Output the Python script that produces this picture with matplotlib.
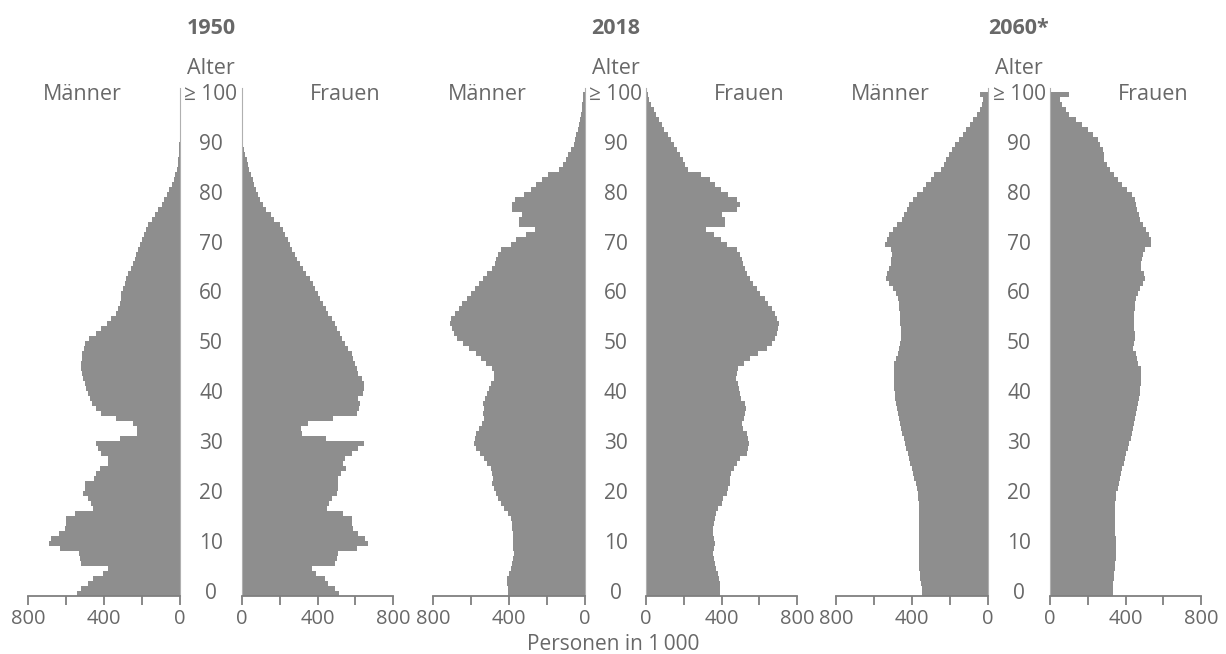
import numpy as np
import matplotlib
matplotlib.use("Agg")
import matplotlib.pyplot as plt
from matplotlib.transforms import blended_transform_factory

plt.rcParams['font.family'] = ['Open Sans', 'DejaVu Sans']

# Bevoelkerung nach Alter (0 .. >=100), in 1000 Personen
ages = np.arange(101)

men_1950 = [543, 520, 485, 458, 405, 379, 520, 525, 532, 634,
            691, 678, 638, 603, 599, 599, 555, 458, 467, 485,
            511, 502, 502, 455, 440, 423, 379, 379, 414, 432,
            440, 317, 226, 226, 247, 335, 418, 440, 462, 472,
            485, 493, 502, 511, 518, 521, 521, 518, 514, 507,
            500, 479, 444, 414, 384, 361, 335, 326, 317, 312,
            308, 300, 291, 282, 273, 260, 247, 238, 229, 220,
            211, 200, 190, 178, 167, 150, 132, 115, 97, 83,
            70, 57, 44, 33, 25, 18, 13, 9, 6, 4,
            3, 2, 1.5, 1, 0.7, 0.5, 0.3, 0.2, 0.1, 0.1, 0.1]
women_1950 = [516, 492, 457, 439, 391, 373, 492, 501, 510, 608,
              670, 653, 617, 590, 581, 581, 537, 448, 462, 475,
              501, 510, 510, 510, 523, 551, 537, 546, 581, 617,
              644, 444, 320, 315, 350, 484, 608, 622, 626, 617,
              640, 644, 644, 635, 617, 608, 599, 590, 581, 564,
              546, 532, 519, 505, 492, 475, 457, 444, 430, 415,
              400, 388, 377, 359, 341, 323, 306, 292, 279, 267,
              256, 244, 229, 217, 199, 172, 155, 128, 110, 96,
              84, 75, 66, 57, 48, 39, 30, 24, 18, 12,
              7, 5, 3, 2, 1.5, 1, 0.7, 0.5, 0.3, 0.2, 0.1]

men_2018 = [403, 403, 409, 409, 400, 391, 386, 379, 374, 379,
            379, 379, 379, 382, 386, 391, 403, 426, 444, 456,
            470, 479, 488, 484, 488, 496, 514, 531, 554, 575,
            584, 579, 572, 558, 540, 531, 537, 531, 537, 526,
            514, 505, 496, 479, 479, 488, 523, 549, 575, 610,
            640, 672, 689, 702, 712, 707, 684, 663, 645, 619,
            602, 579, 558, 537, 514, 488, 474, 467, 456, 444,
            391, 365, 312, 263, 347, 347, 330, 382, 386, 368,
            321, 286, 260, 225, 193, 137, 116, 102, 88, 75,
            58, 52, 46, 39, 32, 27, 23, 18, 14, 11, 9]
women_2018 = [391, 391, 391, 386, 382, 373, 368, 361, 357, 361,
              364, 361, 357, 357, 361, 364, 373, 382, 400, 409,
              427, 436, 445, 445, 450, 468, 480, 498, 533, 542,
              546, 542, 533, 516, 510, 521, 525, 528, 525, 503,
              498, 492, 485, 475, 480, 489, 521, 551, 596, 640,
              667, 681, 693, 699, 702, 693, 684, 667, 649, 631,
              605, 587, 569, 551, 533, 525, 516, 507, 498, 480,
              427, 396, 361, 320, 418, 418, 400, 480, 498, 480,
              436, 396, 364, 338, 290, 222, 208, 196, 178, 164,
              148, 133, 116, 98, 84, 68, 53, 41, 27, 18, 9]

men_2060 = [347, 349, 352, 356, 359, 361, 361, 361, 362, 362,
            362, 362, 363, 363, 363, 363, 363, 363, 365, 366,
            370, 374, 381, 388, 395, 402, 409, 416, 423, 430,
            437, 444, 453, 458, 465, 470, 476, 479, 485, 488,
            490, 493, 493, 497, 497, 497, 493, 485, 476, 467,
            462, 458, 458, 458, 462, 462, 462, 467, 470, 476,
            485, 502, 520, 537, 532, 520, 511, 511, 507, 511,
            543, 529, 523, 502, 479, 455, 441, 426, 414, 396,
            374, 344, 326, 300, 282, 247, 233, 220, 203, 190,
            176, 150, 132, 115, 97, 79, 56, 44, 32, 26, 44]
women_2060 = [332, 334, 336, 338, 341, 345, 347, 348, 348, 348,
              348, 348, 347, 346, 345, 345, 345, 345, 345, 348,
              352, 359, 366, 372, 377, 384, 391, 398, 405, 413,
              421, 427, 434, 439, 445, 452, 457, 462, 466, 469,
              475, 477, 480, 484, 484, 480, 466, 462, 457, 439,
              445, 448, 448, 445, 445, 445, 445, 448, 452, 457,
              466, 475, 493, 505, 498, 484, 480, 487, 493, 501,
              537, 533, 523, 510, 493, 477, 469, 462, 457, 452,
              434, 409, 380, 359, 338, 320, 302, 288, 284, 279,
              267, 252, 226, 199, 172, 137, 101, 84, 66, 52, 101]

years = ['1950', '2018', '2060*']
men_all = [men_1950, men_2018, men_2060]
women_all = [women_1950, women_2018, women_2060]

age_ticks = [0, 10, 20, 30, 40, 50, 60, 70, 80, 90, 100]
age_labels = ['0', '10', '20', '30', '40', '50', '60', '70', '80', '90', '≥ 100']
x_ticks = [0, 200, 400, 600, 800]
x_labels = ['0', '', '400', '', '800']

BAR = '#8e8e8e'
TXT = '#686868'
AX = '#7f7f7f'

W, H = 1226, 654
fig = plt.figure(figsize=(W / 100, H / 100), dpi=100)

# pixel positions of the panels (left edge of men / women axes)
men_left = [28, 433, 836]
women_left = [242, 646, 1050]
ax_w = 152
bottom = 1 - 595.5 / H
height = 507.5 / H

for i in range(3):
    axm = fig.add_axes([men_left[i] / W, bottom, ax_w / W, height])
    axw = fig.add_axes([women_left[i] / W, bottom, (ax_w - 1) / W, height])

    axm.barh(ages, men_all[i], height=1.0, color=BAR, linewidth=0)
    axw.barh(ages, women_all[i], height=1.0, color=BAR, linewidth=0)

    axm.set_xlim(800, 0)
    axw.set_xlim(0, 800)
    for ax in (axm, axw):
        ax.set_ylim(-0.5, 101.3)
        ax.set_yticks([])
        ax.set_xticks(x_ticks)
        ax.set_xticklabels(x_labels)
        ax.tick_params(axis='x', direction='out', length=6.5, width=1.3,
                       color=AX, labelcolor=TXT, labelsize=14.5, pad=3)
        for s in ax.spines.values():
            s.set_visible(False)
        ax.spines['bottom'].set_visible(True)
        ax.spines['bottom'].set_color(AX)
        ax.spines['bottom'].set_linewidth(1.3)
        ax.set_facecolor('none')
    axm.spines['right'].set_visible(True)
    axm.spines['right'].set_color('#b0b0b0')
    axm.spines['right'].set_linewidth(0.8)
    axw.spines['left'].set_visible(True)
    axw.spines['left'].set_color('#b0b0b0')
    axw.spines['left'].set_linewidth(0.8)

    # age labels between the two halves
    xc = (men_left[i] + ax_w + women_left[i]) / 2 / W
    tr = blended_transform_factory(fig.transFigure, axm.transData)
    for a, lab in zip(age_ticks, age_labels):
        fig.text(xc, a, lab, transform=tr, ha='center', va='center',
                 fontsize=15, color=TXT)
    fig.text(xc, 1 - 68 / H, 'Alter', ha='center', va='center',
             fontsize=15.5, color=TXT)
    fig.text(xc, 1 - 28 / H, years[i], ha='center', va='center',
             fontsize=15.5, color=TXT, fontweight='bold')
    fig.text((men_left[i] + 54) / W, 1 - 95 / H, 'Männer', ha='center',
             va='center', fontsize=15.5, color=TXT)
    fig.text((women_left[i] + 103) / W, 1 - 95 / H, 'Frauen', ha='center',
             va='center', fontsize=15.5, color=TXT)

fig.text(613 / W, 1 - 645 / H, 'Personen in 1\u2009000', ha='center',
         va='center', fontsize=15, color=TXT)

fig.savefig('out.png', dpi=100, facecolor='white')
